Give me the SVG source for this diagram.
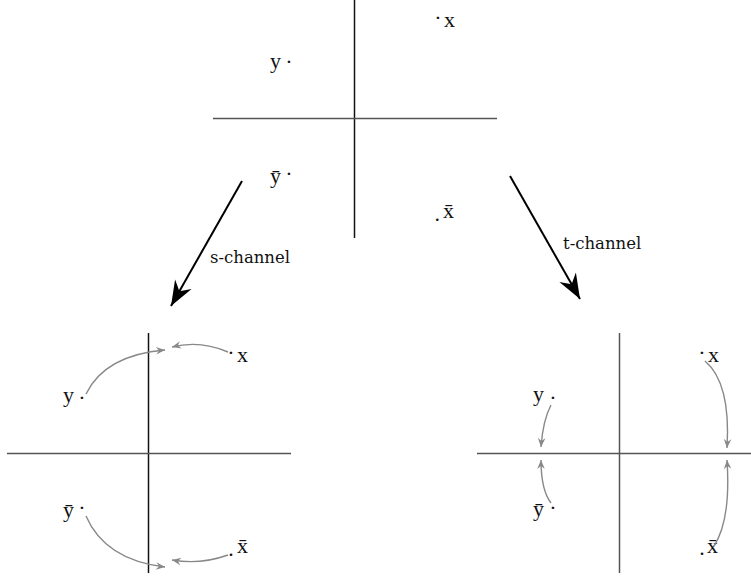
<svg xmlns="http://www.w3.org/2000/svg" width="751" height="577" viewBox="0 0 751 577">
<style>
.lbl{font-family:"Liberation Serif","Times New Roman",serif;font-size:22px;fill:#111}
.ch{font-family:"DejaVu Serif",serif;font-size:16.5px;fill:#111}
.ax{stroke:#111;stroke-width:1.5;fill:none}
.axg{stroke:#555;stroke-width:1.5;fill:none}
.big{stroke:#000;stroke-width:2;fill:none}
.cv{stroke:#888;stroke-width:1.4;fill:none}
</style>
<defs>
<marker id="bigHead" viewBox="-27 -11 28 22" markerWidth="28" markerHeight="22" refX="0" refY="0" orient="auto" markerUnits="userSpaceOnUse">
<path d="M0,0 L-25,-9.5 L-17,0 L-25,9.5 Z" fill="#000"/>
</marker>
<marker id="grayHead" viewBox="-10 -5 11 10" markerWidth="11" markerHeight="10" refX="0" refY="0" orient="auto" markerUnits="userSpaceOnUse">
<path d="M0,0 L-9,-3.8 L-6,0 L-9,3.8 Z" fill="#888"/>
</marker>
</defs>

<g id="axes">
<line class="ax" x1="354.5" y1="0" x2="354.5" y2="238"/>
<line class="axg" x1="213" y1="118.5" x2="497" y2="118.5"/>
<line class="ax" x1="148.5" y1="333" x2="148.5" y2="573"/>
<line class="axg" x1="7" y1="453.5" x2="291" y2="453.5"/>
<line class="axg" x1="619.5" y1="333" x2="619.5" y2="573"/>
<line class="axg" x1="477" y1="453.5" x2="751" y2="453.5"/>
</g>

<g id="top-labels">
<g id="top-x"><text class="lbl"><tspan x="434.2" y="24.5">·</tspan><tspan x="444" y="27">x</tspan></text></g>
<g id="top-y"><text class="lbl"><tspan x="270" y="68">y</tspan><tspan x="285.2" y="68.7">·</tspan></text></g>
<g id="top-ybar"><text class="lbl"><tspan x="270" y="183">ȳ</tspan><tspan x="285.2" y="180.7">·</tspan></text></g>
<g id="top-xbar"><text class="lbl"><tspan x="434.5" y="220.5">.</tspan><tspan x="443" y="218">x̄</tspan></text></g>
</g>

<g id="s-labels">
<g id="s-x"><text class="lbl"><tspan x="227.2" y="359.5">·</tspan><tspan x="237" y="362">x</tspan></text></g>
<g id="s-y"><text class="lbl"><tspan x="63" y="402">y</tspan><tspan x="78.2" y="404.7">·</tspan></text></g>
<g id="s-ybar"><text class="lbl"><tspan x="63" y="517">ȳ</tspan><tspan x="78.2" y="514.7">·</tspan></text></g>
<g id="s-xbar"><text class="lbl"><tspan x="228.3" y="555.5">.</tspan><tspan x="237" y="553">x̄</tspan></text></g>
</g>

<g id="t-labels">
<g id="t-x"><text class="lbl"><tspan x="698.2" y="359.5">·</tspan><tspan x="708" y="362">x</tspan></text></g>
<g id="t-y"><text class="lbl"><tspan x="533" y="401">y</tspan><tspan x="549.2" y="404.7">·</tspan></text></g>
<g id="t-ybar"><text class="lbl"><tspan x="533" y="516">ȳ</tspan><tspan x="549.2" y="514.7">·</tspan></text></g>
<g id="t-xbar"><text class="lbl"><tspan x="699.3" y="554.5">.</tspan><tspan x="707" y="553">x̄</tspan></text></g>
</g>

<g id="channel-labels">
<g id="s-channel"><text class="ch" x="210" y="263">s-channel</text></g>
<g id="t-channel"><text class="ch" x="563" y="249">t-channel</text></g>
</g>

<g id="connectors">
<line class="big" x1="242" y1="181" x2="171" y2="306" marker-end="url(#bigHead)"/>
<line class="big" x1="510" y1="176" x2="580" y2="299" marker-end="url(#bigHead)"/>
<path class="cv" d="M86,394 Q105,355 165,350" marker-end="url(#grayHead)"/>
<path class="cv" d="M228,352 Q200,340 172,347" marker-end="url(#grayHead)"/>
<path class="cv" d="M86,516 Q105,560 165,567" marker-end="url(#grayHead)"/>
<path class="cv" d="M228,555 Q200,565 172,560" marker-end="url(#grayHead)"/>
<path class="cv" d="M705,361 Q731,383 727,448" marker-end="url(#grayHead)"/>
<path class="cv" d="M714,546 Q731,520 727,460" marker-end="url(#grayHead)"/>
<path class="cv" d="M551,405 Q543,420 541,447" marker-end="url(#grayHead)"/>
<path class="cv" d="M551,503 Q541,490 541,460" marker-end="url(#grayHead)"/>
</g>
</svg>
